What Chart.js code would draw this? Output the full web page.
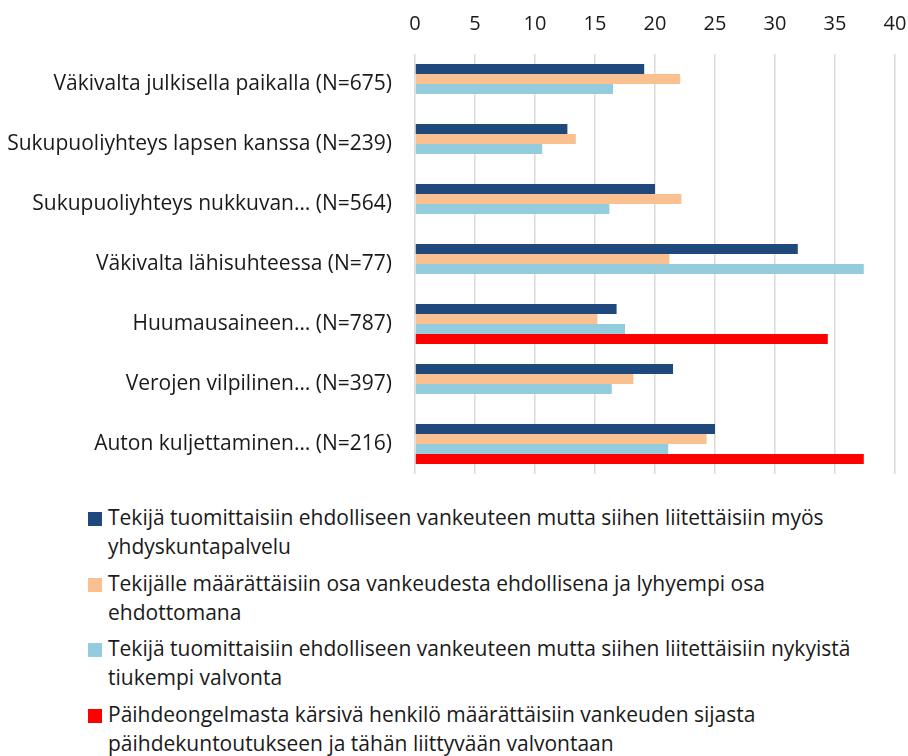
<!DOCTYPE html>
<html><head><meta charset="utf-8">
<script src="https://cdn.jsdelivr.net/npm/chart.js@4.4.0/dist/chart.umd.min.js"></script>
<style>
html,body{margin:0;padding:0;background:#fff;width:908px;height:756px;overflow:hidden;font-family:"Open Sans",sans-serif;}
#wrap{position:absolute;left:0;top:0;width:908px;height:490px;}
#legend{position:absolute;left:88px;top:503px;color:#1a1a1a;font-size:21px;line-height:29px;}
.item{position:relative;padding-left:20px;margin-bottom:7.5px;white-space:nowrap;}
.sw{position:absolute;left:0;top:9px;width:14px;height:14px;}
</style></head>
<body>
<div id="wrap"><canvas id="c" width="908" height="490"></canvas></div>
<div id="legend"></div>
<script>
const categories = [
  "Väkivalta julkisella paikalla (N=675)",
  "Sukupuoliyhteys lapsen kanssa (N=239)",
  "Sukupuoliyhteys nukkuvan… (N=564)",
  "Väkivalta lähisuhteessa (N=77)",
  "Huumausaineen… (N=787)",
  "Verojen vilpilinen… (N=397)",
  "Auton kuljettaminen… (N=216)"
];
const seriesNames = [
  ["Tekijä tuomittaisiin ehdolliseen vankeuteen mutta siihen liitettäisiin myös", "yhdyskuntapalvelu"],
  ["Tekijälle määrättäisiin osa vankeudesta ehdollisena ja lyhyempi osa", "ehdottomana"],
  ["Tekijä tuomittaisiin ehdolliseen vankeuteen mutta siihen liitettäisiin nykyistä", "tiukempi valvonta"],
  ["Päihdeongelmasta kärsivä henkilö määrättäisiin vankeuden sijasta", "päihdekuntoutukseen ja tähän liittyvään valvontaan"]
];
const yhdyskuntapalvelu = [19.1, 12.7, 20.0, 31.9, 16.8, 21.5, 25.0];
const osaEhdottomana   = [22.1, 13.4, 22.2, 21.2, 15.2, 18.2, 24.3];
const tiukempiValvonta = [16.5, 10.6, 16.2, 37.4, 17.5, 16.4, 21.1];
const paihdekuntoutus  = [null, null, null, null, 34.4, null, 37.4];
const xTicks = [0, 5, 10, 15, 20, 25, 30, 35, 40];
const colors = ["#1F497D", "#FAC090", "#93CDDD", "#FF0000"];

const seriesData = [yhdyskuntapalvelu, osaEhdottomana, tiukempiValvonta, paihdekuntoutus];
const xFont = {family: "'Open Sans', sans-serif", size: 20};
const yFont = {family: "'Open Sans', sans-serif", size: 21};

new Chart(document.getElementById('c'), {
  type: 'bar',
  data: {
    labels: categories,
    datasets: seriesData.map((d, i) => ({
      label: seriesNames[i].join(' '),
      data: d,
      backgroundColor: colors[i],
      borderWidth: 0,
      barPercentage: 1.0,
      categoryPercentage: 0.667
    }))
  },
  options: {
    indexAxis: 'y',
    responsive: false,
    animation: false,
    layout: {padding: {left: 0, right: 13, top: 0, bottom: 16}},
    plugins: {legend: {display: false}, tooltip: {enabled: false}},
    scales: {
      x: {
        position: 'top',
        min: 0, max: 40,
        afterBuildTicks: s => { s.ticks = xTicks.map(v => ({value: v})); },
        afterFit: s => { s.height = 54; s.paddingLeft = 0; s.paddingRight = 0; },
        ticks: {color: '#1a1a1a', font: xFont, padding: 18},
        grid: {color: '#d9d9d9', lineWidth: 1.5, drawTicks: false},
        border: {display: false}
      },
      y: {
        afterFit: s => { s.width = 415; s.paddingTop = 0; s.paddingBottom = 0; },
        ticks: {color: '#1a1a1a', font: yFont, padding: 23},
        grid: {display: false, drawTicks: false},
        border: {display: false}
      }
    }
  }
});

const leg = document.getElementById('legend');
seriesNames.forEach((lines, i) => {
  const it = document.createElement('div');
  it.className = 'item';
  const sw = document.createElement('span');
  sw.className = 'sw';
  sw.style.background = colors[i];
  it.appendChild(sw);
  lines.forEach((t, k) => {
    if (k) it.appendChild(document.createElement('br'));
    it.appendChild(document.createTextNode(t));
  });
  leg.appendChild(it);
});
</script>
</body></html>
